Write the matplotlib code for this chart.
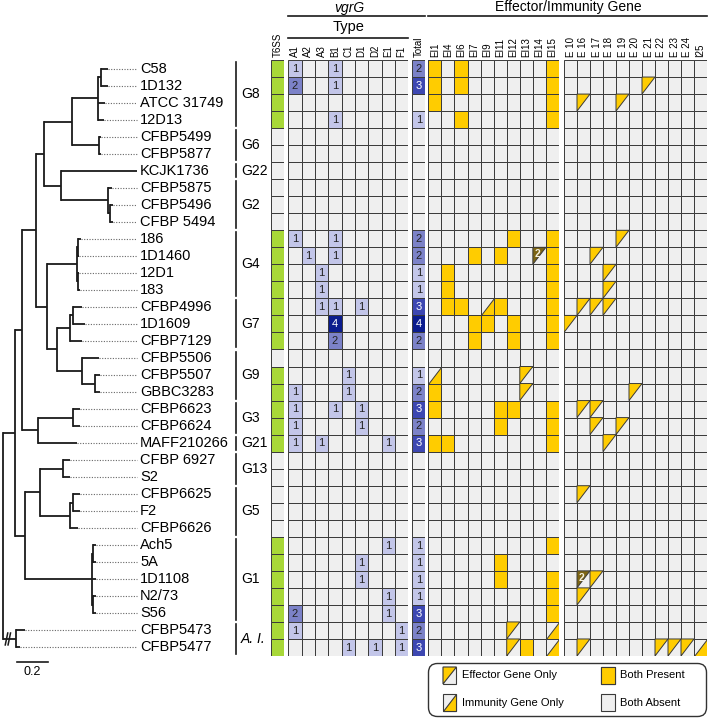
# -*- coding: utf-8 -*-
# phylogeny of strains + T6SS / vgrG / effector-immunity presence matrix
import numpy as np
import matplotlib.pyplot as plt
from matplotlib.patches import Rectangle, Polygon, FancyBboxPatch

plt.rcParams['font.family'] = ['Liberation Sans', 'DejaVu Sans']

# ---------------- data ----------------
strains = ["C58", "1D132", "ATCC 31749", "12D13", "CFBP5499", "CFBP5877",
           "KCJK1736", "CFBP5875", "CFBP5496", "CFBP 5494", "186", "1D1460",
           "12D1", "183", "CFBP4996", "1D1609", "CFBP7129", "CFBP5506",
           "CFBP5507", "GBBC3283", "CFBP6623", "CFBP6624", "MAFF210266",
           "CFBP 6927", "S2", "CFBP6625", "F2", "CFBP6626", "Ach5", "5A",
           "1D1108", "N2/73", "S56", "CFBP5473", "CFBP5477"]

tree_newick = ("((((((((C58:0.045,1D132:0.045):0.019,ATCC 31749:0.045,12D13:0.039):0.168,"
               "(CFBP5499:0.013,CFBP5877:0.013):0.174):0.18,"
               "(KCJK1736:0.49,(CFBP5875:0.026,(CFBP5496:0.019,CFBP 5494:0.019):0.013):0.303):0.11):0.052,"
               "(((186:0.019,1D1460:0.006):0.006,(12D1:0.006,183:0.013):0.006):0.194,"
               "(((CFBP4996:0.058,1D1609:0.077):0.019,CFBP7129:0.077):0.084,"
               "(CFBP5506:0.11,(CFBP5507:0.032,GBBC3283:0.032):0.084):0.161):0.065):0.071):0.09,"
               "((CFBP6623:0.045,CFBP6624:0.045):0.226,MAFF210266:0.252):0.103):0.045,"
               "(((CFBP 6927:0.045,S2:0.045):0.148,((CFBP6625:0.045,F2:0.045):0.019,CFBP6626:0.052):0.194):0.097,"
               "((Ach5:0.019,5A:0.019):0.006,1D1108:0.026,(N2/73:0.019,S56:0.019):0.006):0.432):0.065):0.077,"
               "(CFBP5473:0.058,CFBP5477:0.026):0.084);")

groups = [("G8", 0, 3), ("G6", 4, 5), ("G22", 6, 6), ("G2", 7, 9), ("G4", 10, 13),
          ("G7", 14, 16), ("G9", 17, 19), ("G3", 20, 21), ("G21", 22, 22),
          ("G13", 23, 24), ("G5", 25, 27), ("G1", 28, 32), ("A. I.", 33, 34)]

t6ss = [1, 1, 1, 1, 0, 0, 0, 0, 0, 0, 1, 1, 1, 1, 1, 1, 1, 0, 1, 1, 1, 1, 1,
        0, 0, 0, 0, 0, 1, 1, 1, 1, 1, 1, 1]

vgrg_types = ["A1", "A2", "A3", "B1", "C1", "D1", "D2", "E1", "F1"]
vgrg_counts = [
    [1, 0, 0, 1, 0, 0, 0, 0, 0],  # C58
    [2, 0, 0, 1, 0, 0, 0, 0, 0],  # 1D132
    [0, 0, 0, 0, 0, 0, 0, 0, 0],  # ATCC 31749
    [0, 0, 0, 1, 0, 0, 0, 0, 0],  # 12D13
    [0, 0, 0, 0, 0, 0, 0, 0, 0],
    [0, 0, 0, 0, 0, 0, 0, 0, 0],
    [0, 0, 0, 0, 0, 0, 0, 0, 0],
    [0, 0, 0, 0, 0, 0, 0, 0, 0],
    [0, 0, 0, 0, 0, 0, 0, 0, 0],
    [0, 0, 0, 0, 0, 0, 0, 0, 0],
    [1, 0, 0, 1, 0, 0, 0, 0, 0],  # 186
    [0, 1, 0, 1, 0, 0, 0, 0, 0],  # 1D1460
    [0, 0, 1, 0, 0, 0, 0, 0, 0],  # 12D1
    [0, 0, 1, 0, 0, 0, 0, 0, 0],  # 183
    [0, 0, 1, 1, 0, 1, 0, 0, 0],  # CFBP4996
    [0, 0, 0, 4, 0, 0, 0, 0, 0],  # 1D1609
    [0, 0, 0, 2, 0, 0, 0, 0, 0],  # CFBP7129
    [0, 0, 0, 0, 0, 0, 0, 0, 0],  # CFBP5506
    [0, 0, 0, 0, 1, 0, 0, 0, 0],  # CFBP5507
    [1, 0, 0, 0, 1, 0, 0, 0, 0],  # GBBC3283
    [1, 0, 0, 1, 0, 1, 0, 0, 0],  # CFBP6623
    [1, 0, 0, 0, 0, 1, 0, 0, 0],  # CFBP6624
    [1, 0, 1, 0, 0, 0, 0, 1, 0],  # MAFF210266
    [0, 0, 0, 0, 0, 0, 0, 0, 0],
    [0, 0, 0, 0, 0, 0, 0, 0, 0],
    [0, 0, 0, 0, 0, 0, 0, 0, 0],
    [0, 0, 0, 0, 0, 0, 0, 0, 0],
    [0, 0, 0, 0, 0, 0, 0, 0, 0],
    [0, 0, 0, 0, 0, 0, 0, 1, 0],  # Ach5
    [0, 0, 0, 0, 0, 1, 0, 0, 0],  # 5A
    [0, 0, 0, 0, 0, 1, 0, 0, 0],  # 1D1108
    [0, 0, 0, 0, 0, 0, 0, 1, 0],  # N2/73
    [2, 0, 0, 0, 0, 0, 0, 1, 0],  # S56
    [1, 0, 0, 0, 0, 0, 0, 0, 1],  # CFBP5473
    [0, 0, 0, 0, 1, 0, 1, 0, 1],  # CFBP5477
]

# 0 both absent, 1 effector only, 2 immunity only, 3 both present, 4 effector only x2
ei_genes = ["EI1", "EI4", "EI6", "EI7", "EI9", "EI11", "EI12", "EI13", "EI14", "EI15"]
ei_status = [
    [3, 0, 3, 0, 0, 0, 0, 0, 0, 3],
    [3, 0, 3, 0, 0, 0, 0, 0, 0, 3],
    [3, 0, 0, 0, 0, 0, 0, 0, 0, 3],
    [0, 0, 3, 0, 0, 0, 0, 0, 0, 3],
    [0, 0, 0, 0, 0, 0, 0, 0, 0, 0],
    [0, 0, 0, 0, 0, 0, 0, 0, 0, 0],
    [0, 0, 0, 0, 0, 0, 0, 0, 0, 0],
    [0, 0, 0, 0, 0, 0, 0, 0, 0, 0],
    [0, 0, 0, 0, 0, 0, 0, 0, 0, 0],
    [0, 0, 0, 0, 0, 0, 0, 0, 0, 0],
    [0, 0, 0, 0, 0, 0, 3, 0, 0, 3],
    [0, 0, 0, 3, 0, 3, 0, 0, 4, 3],
    [0, 3, 0, 0, 0, 0, 0, 0, 0, 3],
    [0, 3, 0, 0, 0, 0, 0, 0, 0, 3],
    [0, 3, 3, 0, 2, 3, 0, 0, 0, 3],
    [0, 0, 0, 3, 3, 0, 3, 0, 0, 3],
    [0, 0, 0, 3, 0, 0, 3, 0, 0, 3],
    [0, 0, 0, 0, 0, 0, 0, 0, 0, 0],
    [2, 0, 0, 0, 0, 0, 0, 1, 0, 0],
    [3, 0, 0, 0, 0, 0, 0, 1, 0, 0],
    [3, 0, 0, 0, 0, 3, 3, 0, 0, 3],
    [0, 0, 0, 0, 0, 3, 0, 0, 0, 3],
    [3, 3, 0, 0, 0, 0, 0, 0, 0, 3],
    [0, 0, 0, 0, 0, 0, 0, 0, 0, 0],
    [0, 0, 0, 0, 0, 0, 0, 0, 0, 0],
    [0, 0, 0, 0, 0, 0, 0, 0, 0, 0],
    [0, 0, 0, 0, 0, 0, 0, 0, 0, 0],
    [0, 0, 0, 0, 0, 0, 0, 0, 0, 0],
    [0, 0, 0, 0, 0, 0, 0, 0, 0, 3],
    [0, 0, 0, 0, 0, 3, 0, 0, 0, 0],
    [0, 0, 0, 0, 0, 3, 0, 0, 0, 3],
    [0, 0, 0, 0, 0, 0, 0, 0, 0, 3],
    [0, 0, 0, 0, 0, 0, 0, 0, 0, 3],
    [0, 0, 0, 0, 0, 0, 1, 0, 0, 2],
    [0, 0, 0, 0, 0, 0, 1, 3, 0, 2],
]

e_genes = ["E 10", "E 16", "E 17", "E 18", "E 19", "E 20", "E 21", "E 22", "E 23", "E 24", "I25"]
e_status = [
    [0, 0, 0, 0, 0, 0, 0, 0, 0, 0, 0],
    [0, 0, 0, 0, 0, 0, 1, 0, 0, 0, 0],
    [0, 1, 0, 0, 1, 0, 0, 0, 0, 0, 0],
    [0, 0, 0, 0, 0, 0, 0, 0, 0, 0, 0],
    [0, 0, 0, 0, 0, 0, 0, 0, 0, 0, 0],
    [0, 0, 0, 0, 0, 0, 0, 0, 0, 0, 0],
    [0, 0, 0, 0, 0, 0, 0, 0, 0, 0, 0],
    [0, 0, 0, 0, 0, 0, 0, 0, 0, 0, 0],
    [0, 0, 0, 0, 0, 0, 0, 0, 0, 0, 0],
    [0, 0, 0, 0, 0, 0, 0, 0, 0, 0, 0],
    [0, 0, 0, 0, 1, 0, 0, 0, 0, 0, 0],
    [0, 0, 1, 0, 0, 0, 0, 0, 0, 0, 0],
    [0, 0, 0, 1, 0, 0, 0, 0, 0, 0, 0],
    [0, 0, 0, 1, 0, 0, 0, 0, 0, 0, 0],
    [0, 1, 1, 1, 0, 0, 0, 0, 0, 0, 0],
    [1, 0, 0, 0, 0, 0, 0, 0, 0, 0, 0],
    [0, 0, 0, 0, 0, 0, 0, 0, 0, 0, 0],
    [0, 0, 0, 0, 0, 0, 0, 0, 0, 0, 0],
    [0, 0, 0, 0, 0, 0, 0, 0, 0, 0, 0],
    [0, 0, 0, 0, 0, 1, 0, 0, 0, 0, 0],
    [0, 1, 1, 0, 0, 0, 0, 0, 0, 0, 0],
    [0, 0, 1, 0, 1, 0, 0, 0, 0, 0, 0],
    [0, 0, 0, 1, 0, 0, 0, 0, 0, 0, 0],
    [0, 0, 0, 0, 0, 0, 0, 0, 0, 0, 0],
    [0, 0, 0, 0, 0, 0, 0, 0, 0, 0, 0],
    [0, 1, 0, 0, 0, 0, 0, 0, 0, 0, 0],
    [0, 0, 0, 0, 0, 0, 0, 0, 0, 0, 0],
    [0, 0, 0, 0, 0, 0, 0, 0, 0, 0, 0],
    [0, 0, 0, 0, 0, 0, 0, 0, 0, 0, 0],
    [0, 0, 0, 0, 0, 0, 0, 0, 0, 0, 0],
    [0, 4, 1, 0, 0, 0, 0, 0, 0, 0, 0],
    [0, 1, 0, 0, 0, 0, 0, 0, 0, 0, 0],
    [0, 0, 0, 0, 0, 0, 0, 0, 0, 0, 0],
    [0, 0, 0, 0, 0, 0, 0, 0, 0, 0, 0],
    [0, 1, 0, 0, 0, 0, 0, 1, 1, 1, 2],
]

legend_items = [(1, "Effector Gene Only"), (3, "Both Present"),
                (2, "Immunity Gene Only"), (0, "Both Absent")]

# ---------------- styles ----------------
GRAY = '#efefef'
GRID = '#3a3a3a'
YELLOW = '#ffcc00'
BROWN = '#7d6514'
GREEN = '#a8d838'
BLUES = {1: '#c3c6e9', 2: '#7c82c8', 3: '#3d47b1', 4: '#0b1c8e'}

W, H = 709, 719
ROW_TOP, ROW_BOT = 60, 656
n = len(strains)

fig = plt.figure(figsize=(W / 100, H / 100), dpi=100)


def px_axes(x0, x1, y0=ROW_TOP, y1=ROW_BOT):
    ax = fig.add_axes([x0 / W, 1 - y1 / H, (x1 - x0) / W, (y1 - y0) / H])
    ax.set_axis_off()
    return ax


def draw_status(ax, x, y, w, h, s, lw=0.7):
    ax.add_patch(Rectangle((x, y), w, h, fc=GRAY, ec=GRID, lw=lw))
    if s == 3:
        ax.add_patch(Rectangle((x, y), w, h, fc=YELLOW, ec=GRID, lw=lw))
    elif s in (1, 4):
        ax.add_patch(Polygon([(x, y), (x + w, y), (x, y + h)], closed=True,
                             fc=YELLOW if s == 1 else BROWN, ec=GRID, lw=lw))
        if s == 4:
            ax.text(x + w * 0.36, y + h * 0.4, "2", color='#f4f0e0', fontsize=7.5,
                    ha='center', va='center', fontweight='bold')
    elif s == 2:
        ax.add_patch(Polygon([(x + w, y), (x + w, y + h), (x, y + h)], closed=True,
                             fc=YELLOW, ec=GRID, lw=lw))


def col_labels(ax, labels):
    for c, lab in enumerate(labels):
        ax.text(c + 0.5, -0.18, lab, rotation=90, ha='center', va='bottom', fontsize=7)


# ---------------- tree ----------------
def parse_newick(s):
    pos = 0

    def node():
        nonlocal pos
        children = []
        if s[pos] == '(':
            pos += 1
            while True:
                children.append(node())
                if s[pos] == ',':
                    pos += 1
                    continue
                pos += 1
                break
        start = pos
        while s[pos] not in ':,();':
            pos += 1
        name = s[start:pos]
        length = 0.0
        if s[pos] == ':':
            pos += 1
            start = pos
            while s[pos] not in ',();':
                pos += 1
            length = float(s[start:pos])
        return {'name': name, 'len': length, 'children': children}

    return node()


tree = parse_newick(tree_newick)
leaves = []


def layout(nd, x0):
    nd['x'] = x0 + nd['len']
    if not nd['children']:
        nd['y'] = len(leaves) + 0.5
        leaves.append(nd['name'])
    else:
        for ch in nd['children']:
            layout(ch, nd['x'])
        ys = [ch['y'] for ch in nd['children']]
        nd['y'] = (min(ys) + max(ys)) / 2


layout(tree, 0.0)

ax_t = px_axes(0, 137)
TREE_XMAX = 0.865
ax_t.set_xlim(-0.02, TREE_XMAX)
ax_t.set_ylim(n, 0)
LC = '#1a1a1a'


def draw_tree(nd):
    if nd['children']:
        ys = [ch['y'] for ch in nd['children']]
        ax_t.plot([nd['x'], nd['x']], [min(ys), max(ys)], color=LC, lw=1.3,
                  solid_capstyle='projecting', clip_on=False)
        for ch in nd['children']:
            ax_t.plot([nd['x'], ch['x']], [ch['y'], ch['y']], color=LC, lw=1.3,
                      solid_capstyle='butt', clip_on=False)
            draw_tree(ch)
    else:
        if nd['x'] < TREE_XMAX - 0.01:
            ax_t.plot([nd['x'], TREE_XMAX], [nd['y'], nd['y']], color='#666',
                      lw=0.8, linestyle=(0, (1, 1.4)), clip_on=False)
        ax_t.text(TREE_XMAX + 0.02, nd['y'], nd['name'], ha='left', va='center',
                  fontsize=10.5, clip_on=False)


draw_tree(tree)

# break marks on the outgroup branch
out = tree['children'][-1]
for bx in (0.022, 0.04):
    ax_t.plot([bx - 0.008, bx + 0.008], [out['y'] + 0.35, out['y'] - 0.35],
              color=LC, lw=1.1, clip_on=False)

# scale bar
ax_t.plot([0.09, 0.29], [n + 0.35, n + 0.35], color=LC, lw=1.2, clip_on=False)
ax_t.text(0.19, n + 0.95, "0.2", ha='center', va='center', fontsize=9)

# ---------------- group labels ----------------
ax_g = px_axes(230, 268)
ax_g.set_xlim(0, 1)
ax_g.set_ylim(n, 0)
for name, r0, r1 in groups:
    ax_g.plot([0.17, 0.17], [r0 + 0.12, r1 + 0.88], color=LC, lw=1.2)
    ax_g.text(0.29, (r0 + r1 + 1) / 2, name, ha='left', va='center', fontsize=10,
              style='italic' if '.' in name else 'normal')

# ---------------- T6SS ----------------
ax_s = px_axes(271, 284.3)
ax_s.set_xlim(0, 1)
ax_s.set_ylim(n, 0)
for r, v in enumerate(t6ss):
    ax_s.add_patch(Rectangle((0, r), 1, 1, fc=GREEN if v else GRAY, ec=GRID, lw=0.7))
col_labels(ax_s, ["T6SS"])


# ---------------- vgrG counts ----------------
def count_cell(ax, c, r, v):
    ax.add_patch(Rectangle((c, r), 1, 1, fc=BLUES.get(v, GRAY), ec=GRID, lw=0.7))
    if v:
        ax.text(c + 0.5, r + 0.52, str(v), ha='center', va='center', fontsize=8,
                color='white' if v >= 3 else '#222')


ax_v = px_axes(288.3, 408.3)
ax_v.set_xlim(0, len(vgrg_types))
ax_v.set_ylim(n, 0)
for r, row in enumerate(vgrg_counts):
    for c, v in enumerate(row):
        count_cell(ax_v, c, r, v)
col_labels(ax_v, vgrg_types)

ax_tot = px_axes(412.3, 425.3)
ax_tot.set_xlim(0, 1)
ax_tot.set_ylim(n, 0)
for r, row in enumerate(vgrg_counts):
    count_cell(ax_tot, 0, r, sum(row))
col_labels(ax_tot, ["Total"])

# ---------------- effector / immunity ----------------
ax_ei = px_axes(428.3, 559)
ax_ei.set_xlim(0, len(ei_genes))
ax_ei.set_ylim(n, 0)
for r, row in enumerate(ei_status):
    for c, s in enumerate(row):
        draw_status(ax_ei, c, r, 1, 1, s)
col_labels(ax_ei, ei_genes)

ax_e = px_axes(564, 707)
ax_e.set_xlim(0, len(e_genes))
ax_e.set_ylim(n, 0)
for r, row in enumerate(e_status):
    for c, s in enumerate(row):
        draw_status(ax_e, c, r, 1, 1, s)
col_labels(ax_e, e_genes)

# ---------------- headers ----------------
ov = fig.add_axes([0, 0, 1, 1], zorder=-1)
ov.set_xlim(0, W)
ov.set_ylim(H, 0)
ov.set_axis_off()
ov.text(349, 8, "vgrG", style='italic', ha='center', va='center', fontsize=10)
ov.plot([288.3, 425.3], [16, 16], color=LC, lw=1.2)
ov.text(349, 27, "Type", ha='center', va='center', fontsize=10.5)
ov.plot([288.3, 408.3], [38, 38], color=LC, lw=1.2)
ov.text(568, 7, "Effector/Immunity Gene", ha='center', va='center', fontsize=10)
ov.plot([428.3, 707], [16, 16], color=LC, lw=1.2)

# ---------------- legend ----------------
ax_l = px_axes(427, 708, 662, 718)
ax_l.set_xlim(0, 281)
ax_l.set_ylim(56, 0)
ax_l.add_patch(FancyBboxPatch((1.5, 1.5), 278, 53,
                              boxstyle='round,pad=0,rounding_size=9',
                              fc='white', ec='#333', lw=1))
for i, (s, lab) in enumerate(legend_items):
    lx = 16 if i % 2 == 0 else 174
    ly = 5 if i < 2 else 32
    draw_status(ax_l, lx, ly, 13.5, 17, s, lw=0.8)
    ax_l.text(lx + 19, ly + 8.5, lab, ha='left', va='center', fontsize=8)

fig.savefig("out.png", dpi=100)
